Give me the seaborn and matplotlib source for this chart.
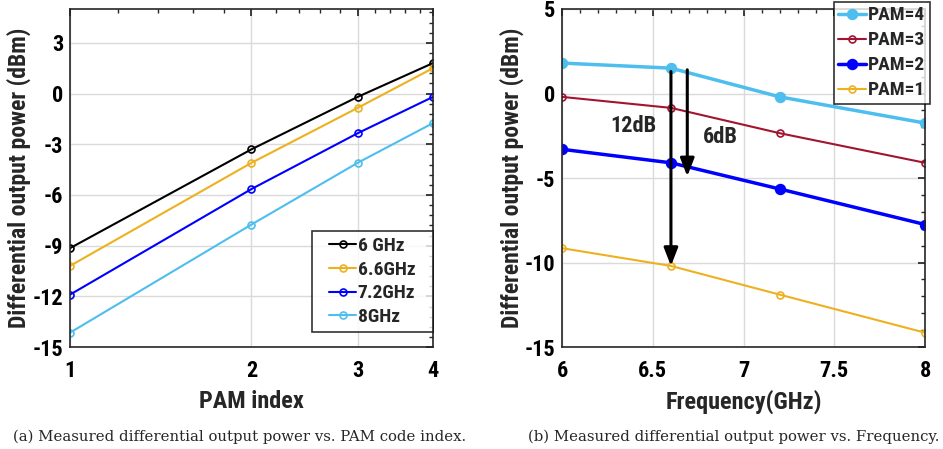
import matplotlib
matplotlib.use("Agg")
import matplotlib.pyplot as plt
from matplotlib.path import Path
from matplotlib.ticker import AutoMinorLocator, FixedLocator, NullFormatter
import numpy as np
import pandas as pd
import seaborn as sns

# Measured data
pam_index = [1, 2, 3, 4]
freq_ghz = [6.0, 6.6, 7.2, 8.0]
freq_labels = ["6 GHz", "6.6GHz", "7.2GHz", "8GHz"]

pam4 = [1.8, 1.5, -0.2, -1.75]
pam3 = [-0.2, -0.85, -2.35, -4.1]
pam2 = [-3.3, -4.1, -5.65, -7.75]
pam1 = [-9.15, -10.2, -11.9, -14.15]

sns.set_theme(style="white")
plt.rcParams["font.family"] = ["Roboto Condensed", "Liberation Sans Narrow",
                               "Liberation Sans", "DejaVu Sans"]
plt.rcParams["font.weight"] = "bold"
plt.rcParams["axes.unicode_minus"] = False

C_BLACK = "#000000"
C_YELLOW = "#EDB120"
C_BLUE = "#0000FF"
C_CYAN = "#4DBEEE"
C_RED = "#A2142F"


class WideSquare:
    """Square legend frame with extra horizontal padding (in units of font size)."""

    def __init__(self, hpad):
        self.hpad = hpad

    def __call__(self, x0, y0, width, height, mutation_size):
        p = self.hpad * mutation_size
        xa, xb = x0 - p, x0 + width + p
        ya, yb = y0, y0 + height
        return Path([(xa, ya), (xb, ya), (xb, yb), (xa, yb), (xa, ya)], closed=True)


fig = plt.figure(figsize=(9.43, 4.49), dpi=100)
axL = fig.add_axes([0.0742, 0.227, 0.385, 0.753])
axR = fig.add_axes([0.596, 0.227, 0.385, 0.753])

# ---- (a) power vs PAM index, one line per frequency ----
by_pam = np.array([pam1, pam2, pam3, pam4])  # rows: PAM, cols: freq
rows = []
for j, lab in enumerate(freq_labels):
    for i, p in enumerate(pam_index):
        rows.append({"pam": p, "power": by_pam[i, j], "freq": lab})
dfL = pd.DataFrame(rows)
colorsL = [C_BLACK, C_YELLOW, C_BLUE, C_CYAN]
for lab, col in zip(freq_labels, colorsL):
    sub = dfL[dfL["freq"] == lab]
    sns.lineplot(data=sub, x="pam", y="power", ax=axL, color=col, lw=1.5,
                 marker="o", markersize=5, markerfacecolor="none",
                 markeredgecolor=col, markeredgewidth=1.2, label=lab)

axL.set_xscale("log")
axL.set_xlim(1, 4)
axL.set_ylim(-15, 5)
axL.xaxis.set_major_locator(FixedLocator([1, 2, 3, 4]))
axL.set_xticklabels(["1", "2", "3", "4"])
axL.xaxis.set_minor_locator(FixedLocator([1.2, 1.4, 1.6, 1.8, 2.2, 2.4, 2.6, 2.8,
                                          3.2, 3.4, 3.6, 3.8]))
axL.xaxis.set_minor_formatter(NullFormatter())
axL.set_yticks([-15, -12, -9, -6, -3, 0, 3])
axL.yaxis.set_minor_locator(AutoMinorLocator(5))
axL.set_xlabel("PAM index", fontsize=17.5, fontweight="bold", labelpad=6)
axL.set_ylabel("Differential output power (dBm)", fontsize=17, fontweight="bold")
axL.yaxis.set_label_coords(-0.107, 0.5)

legL = axL.legend(loc="lower right", bbox_to_anchor=(1.0 - 11.5 / 363, 0.044), fontsize=14,
                  frameon=True, fancybox=False, edgecolor="black",
                  handlelength=1.35, handletextpad=0.1, borderpad=0.32,
                  labelspacing=0.29, borderaxespad=0)
legL.get_frame().set_boxstyle(WideSquare(0.6))
legL.get_frame().set_linewidth(1.2)

# ---- (b) power vs frequency, one line per PAM code ----
series = [("PAM=4", pam4, C_CYAN, 2.5, True),
          ("PAM=3", pam3, C_RED, 1.5, False),
          ("PAM=2", pam2, C_BLUE, 2.5, True),
          ("PAM=1", pam1, C_YELLOW, 1.5, False)]
for lab, vals, col, lw, filled in series:
    d = pd.DataFrame({"freq": freq_ghz, "power": vals})
    sns.lineplot(data=d, x="freq", y="power", ax=axR, color=col, lw=lw,
                 marker="o", markersize=7 if filled else 5,
                 markerfacecolor=col if filled else "none",
                 markeredgecolor=col, markeredgewidth=1.2, label=lab)

axR.set_xlim(6, 8)
axR.set_ylim(-15, 5)
axR.set_xticks([6, 6.5, 7, 7.5, 8])
axR.set_xticklabels(["6", "6.5", "7", "7.5", "8"])
axR.set_yticks([-15, -10, -5, 0, 5])
axR.xaxis.set_minor_locator(AutoMinorLocator(5))
axR.yaxis.set_minor_locator(AutoMinorLocator(5))
axR.set_xlabel("Frequency(GHz)", fontsize=17.5, fontweight="bold", labelpad=6)
axR.set_ylabel("Differential output power (dBm)", fontsize=17, fontweight="bold")
axR.yaxis.set_label_coords(-0.105, 0.5)

# Attenuation arrows at 6.6 GHz
arrow_style = dict(arrowstyle="-|>,head_length=0.9,head_width=0.35",
                   color="black", lw=2.2, shrinkA=0, shrinkB=0)
axR.annotate("", xy=(6.6, pam1[1]), xytext=(6.6, 1.3), arrowprops=arrow_style)
axR.annotate("", xy=(6.69, -4.9), xytext=(6.69, 1.4), arrowprops=arrow_style)
axR.text(6.39, -1.95, "12dB", fontsize=16, fontweight="bold", ha="center", va="center")
axR.text(6.87, -2.55, "6dB", fontsize=16, fontweight="bold", ha="center", va="center")

legR = axR.legend(loc="upper right", bbox_to_anchor=(930 / 943, 1 - 2 / 449),
                  bbox_transform=fig.transFigure, fontsize=14,
                  frameon=True, fancybox=False, edgecolor="black",
                  handlelength=1.45, handletextpad=0.1, borderpad=0.23,
                  labelspacing=0.36, borderaxespad=0)
legR.get_frame().set_linewidth(1.2)
legR.set_zorder(10)

for ax in (axL, axR):
    ax.grid(True, which="major", color="#DADADA", lw=1.0)
    ax.set_axisbelow(True)
    for s in ax.spines.values():
        s.set_visible(True)
        s.set_color("#262626")
        s.set_linewidth(1.2)
    ax.tick_params(which="both", direction="in", top=True, right=True,
                   labelsize=16, colors="#262626", labelcolor="black")
    ax.tick_params(which="major", length=5)
    ax.tick_params(axis="x", which="major", pad=9)
    ax.tick_params(axis="y", which="major", pad=5)
    ax.tick_params(which="minor", length=3)
    for t in ax.get_xticklabels() + ax.get_yticklabels():
        t.set_fontweight("bold")

# Sub-figure captions
cap_font = ["DejaVu Serif", "Liberation Serif"]
fig.text(240 / 943, 1 - 437 / 449, "(a) Measured differential output power vs. PAM code index.",
         ha="center", va="center", fontsize=10.75, fontweight="normal", family=cap_font)
fig.text(734 / 943, 1 - 437 / 449, "(b) Measured differential output power vs. Frequency.",
         ha="center", va="center", fontsize=10.75, fontweight="normal", family=cap_font)

fig.savefig("out.png", dpi=100)
